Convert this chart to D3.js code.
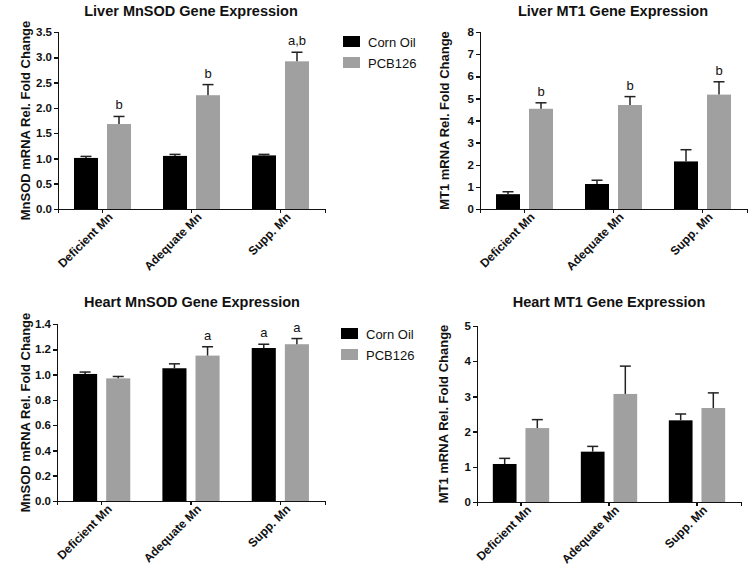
<!DOCTYPE html>
<html>
<head>
<meta charset="utf-8">
<script src="https://cdn.jsdelivr.net/npm/d3@7"></script>
<style>
  body {margin: 0; background: #fff;}
  svg {display: block; font-family: "Liberation Sans", Arial, sans-serif;}
  .axis path, .axis line {stroke: #111; stroke-width: 1.5; shape-rendering: crispEdges;}
  .axis text {font-size: 11.5px; font-weight: bold; fill: #111;}
  .xaxis text {font-size: 12px;}
</style>
</head>
<body>
<div class="chartWrap"></div>
<script>
//Data
const groups = ["Deficient Mn", "Adequate Mn", "Supp. Mn"];
const series = ["Corn Oil", "PCB126"];
const seriesColors = ["#000000", "#a0a0a0"];

//Liver MnSOD
const liverMnsodCorn = [1.01, 1.05, 1.06],
      liverMnsodCornErr = [0.03, 0.03, 0.02],
      liverMnsodPcb = [1.68, 2.25, 2.92],
      liverMnsodPcbErr = [0.15, 0.21, 0.18],
      liverMnsodCornSig = ["", "", ""],
      liverMnsodPcbSig = ["b", "b", "a,b"];
//Liver MT1
const liverMt1Corn = [0.67, 1.13, 2.15],
      liverMt1CornErr = [0.11, 0.17, 0.53],
      liverMt1Pcb = [4.53, 4.70, 5.17],
      liverMt1PcbErr = [0.27, 0.38, 0.58],
      liverMt1CornSig = ["", "", ""],
      liverMt1PcbSig = ["b", "b", "b"];
//Heart MnSOD
const heartMnsodCorn = [1.005, 1.05, 1.21],
      heartMnsodCornErr = [0.015, 0.035, 0.03],
      heartMnsodPcb = [0.97, 1.15, 1.24],
      heartMnsodPcbErr = [0.015, 0.07, 0.045],
      heartMnsodCornSig = ["", "", "a"],
      heartMnsodPcbSig = ["", "a", "a"];
//Heart MT1
const heartMt1Corn = [1.08, 1.43, 2.32],
      heartMt1CornErr = [0.16, 0.15, 0.18],
      heartMt1Pcb = [2.10, 3.07, 2.67],
      heartMt1PcbErr = [0.24, 0.79, 0.43],
      heartMt1CornSig = ["", "", ""],
      heartMt1PcbSig = ["", "", ""];

//Ticks
const mnsodLiverTicks = [0, 0.5, 1.0, 1.5, 2.0, 2.5, 3.0, 3.5],
      mt1LiverTicks = [0, 1, 2, 3, 4, 5, 6, 7, 8],
      mnsodHeartTicks = [0, 0.2, 0.4, 0.6, 0.8, 1.0, 1.2, 1.4],
      mt1HeartTicks = [0, 1, 2, 3, 4, 5];

const w = 755, h = 576;
let svg = d3.select(".chartWrap").append("svg").attr("width", w).attr("height", h);

//Panel layout
let panels = [
  {title: "Liver MnSOD Gene Expression", ylab: "MnSOD mRNA Rel. Fold Change",
   corn: liverMnsodCorn, cornErr: liverMnsodCornErr, pcb: liverMnsodPcb, pcbErr: liverMnsodPcbErr,
   cornSig: liverMnsodCornSig, pcbSig: liverMnsodPcbSig, ticks: mnsodLiverTicks, fmt: ".1f",
   x0: 58, x1: 325, y0: 209, y1: 32, titleX: 191, titleY: 16, labX: 25},
  {title: "Liver MT1 Gene Expression", ylab: "MT1 mRNA Rel. Fold Change",
   corn: liverMt1Corn, cornErr: liverMt1CornErr, pcb: liverMt1Pcb, pcbErr: liverMt1PcbErr,
   cornSig: liverMt1CornSig, pcbSig: liverMt1PcbSig, ticks: mt1LiverTicks, fmt: "d",
   x0: 480, x1: 747, y0: 209, y1: 32, titleX: 613, titleY: 16, labX: 444},
  {title: "Heart MnSOD Gene Expression", ylab: "MnSOD mRNA Rel. Fold Change",
   corn: heartMnsodCorn, cornErr: heartMnsodCornErr, pcb: heartMnsodPcb, pcbErr: heartMnsodPcbErr,
   cornSig: heartMnsodCornSig, pcbSig: heartMnsodPcbSig, ticks: mnsodHeartTicks, fmt: ".1f",
   x0: 57, x1: 325, y0: 501, y1: 324, titleX: 192, titleY: 307, labX: 25},
  {title: "Heart MT1 Gene Expression", ylab: "MT1 mRNA Rel. Fold Change",
   corn: heartMt1Corn, cornErr: heartMt1CornErr, pcb: heartMt1Pcb, pcbErr: heartMt1PcbErr,
   cornSig: heartMt1CornSig, pcbSig: heartMt1PcbSig, ticks: mt1HeartTicks, fmt: "d",
   x0: 477, x1: 741, y0: 502, y1: 326, titleX: 609, titleY: 307, labX: 443}
];

panels.forEach(drawPanel);
drawLegend(343, 36);
drawLegend(341, 328);

function drawPanel(p) {
  let g = svg.append("g");
  let x = d3.scaleBand().domain(groups).range([p.x0, p.x1]);
  let xs = d3.scaleBand().domain(series).range([0, x.bandwidth()]).paddingInner(0.273).paddingOuter(0.485);
  let y = d3.scaleLinear().domain([p.ticks[0], p.ticks[p.ticks.length - 1]]).range([p.y0, p.y1]);

  //Rows: one per bar
  let rows = [];
  groups.forEach(function(gr, i) {
    rows.push({group: gr, s: series[0], v: p.corn[i], e: p.cornErr[i], sig: p.cornSig[i], c: seriesColors[0]});
    rows.push({group: gr, s: series[1], v: p.pcb[i], e: p.pcbErr[i], sig: p.pcbSig[i], c: seriesColors[1]});
  });

  //Title
  g.append("text").text(p.title).attr("x", p.titleX).attr("y", p.titleY)
    .attr("text-anchor", "middle").attr("font-size", 14.5).attr("font-weight", "bold").attr("fill", "#111");

  //Y label
  g.append("text").text(p.ylab)
    .attr("transform", "translate(" + p.labX + "," + ((p.y0 + p.y1) / 2) + ") rotate(-90)")
    .attr("text-anchor", "middle").attr("dominant-baseline", "central")
    .attr("font-size", 13).attr("font-weight", "bold").attr("fill", "#111");

  //Bars
  g.selectAll(".bar").data(rows).enter().append("rect")
    .attr("x", function(d) {return x(d.group) + xs(d.s);})
    .attr("y", function(d) {return y(d.v);})
    .attr("width", xs.bandwidth())
    .attr("height", function(d) {return y(0) - y(d.v);})
    .attr("fill", function(d) {return d.c;});

  //Error bars (upper only)
  let err = g.selectAll(".err").data(rows).enter().append("g")
    .attr("transform", function(d) {return "translate(" + (x(d.group) + xs(d.s) + xs.bandwidth() / 2) + ",0)";});
  err.append("line").attr("x1", 0).attr("x2", 0)
    .attr("y1", function(d) {return y(d.v);})
    .attr("y2", function(d) {return y(d.v + d.e);})
    .attr("stroke", "#222").attr("stroke-width", 1.5);
  err.append("line").attr("x1", -5.5).attr("x2", 5.5)
    .attr("y1", function(d) {return y(d.v + d.e);})
    .attr("y2", function(d) {return y(d.v + d.e);})
    .attr("stroke", "#222").attr("stroke-width", 1.5);
  err.append("text").text(function(d) {return d.sig;})
    .attr("y", function(d) {return y(d.v + d.e) - 7;})
    .attr("text-anchor", "middle").attr("font-size", 13).attr("fill", "#111");

  //Y axis
  g.append("g").attr("class", "axis").attr("transform", "translate(" + p.x0 + ",0)")
    .call(d3.axisLeft(y).tickValues(p.ticks).tickFormat(d3.format(p.fmt)).tickSizeOuter(0).tickSize(4).tickPadding(2));

  //X axis
  let xa = g.append("g").attr("class", "axis xaxis").attr("transform", "translate(0," + p.y0 + ")")
    .call(d3.axisBottom(x).tickSizeOuter(0).tickSize(4));
  xa.selectAll("text")
    .attr("text-anchor", "end")
    .attr("transform", "translate(3,1) rotate(-45)")
    .attr("dy", "0.35em").attr("dx", "0");
}

function drawLegend(lx, ly) {
  let lg = svg.append("g").attr("transform", "translate(" + lx + "," + ly + ")");
  series.forEach(function(s, i) {
    lg.append("rect").attr("x", 0).attr("y", i * 21).attr("width", 17).attr("height", 11).attr("fill", seriesColors[i]);
    lg.append("text").text(s).attr("x", 25).attr("y", i * 21 + 10.5).attr("font-size", 13).attr("fill", "#111");
  });
}
</script>
</body>
</html>
